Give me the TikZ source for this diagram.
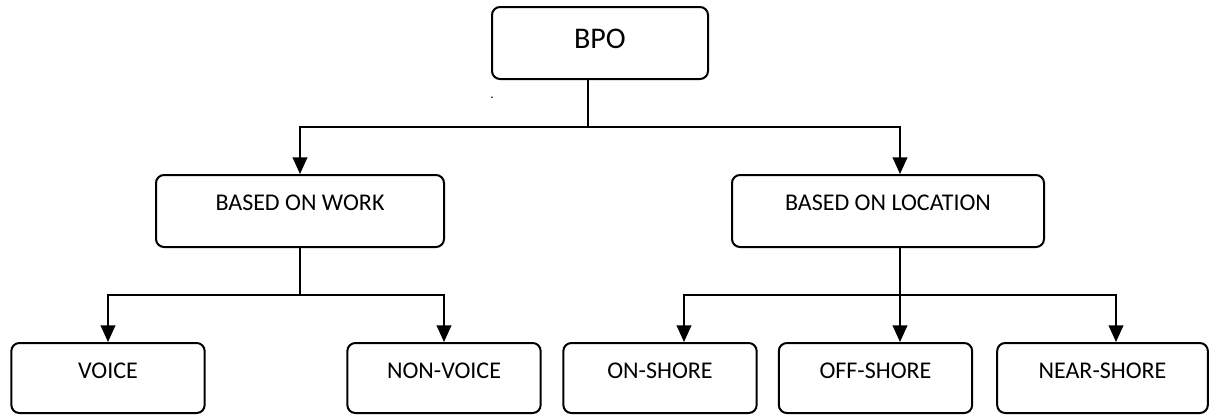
\documentclass[tikz,border=0pt]{standalone}
\usepackage{fontspec}
\setmainfont{Carlito}
\usetikzlibrary{arrows.meta,positioning}

\begin{document}
\begin{tikzpicture}[x=0.75pt,y=-0.75pt]
      \useasboundingbox (0,0) rectangle (1209,415);
      \tikzset{
        box/.style={draw,line width=1.5pt,rounded corners=6pt,inner sep=0pt,
          font=\fontsize{18}{21}\selectfont,text height=11.5pt,text depth=12.5pt},
        arrow/.style={line width=1.4pt,-{Triangle[width=11pt,length=12.5pt]}},
        link/.style={line width=1.4pt}}
      % top level
      \node[box,minimum width=162pt,minimum height=54pt,
        font=\fontsize{22.5}{26}\selectfont,text height=14.5pt,text depth=7pt] (bpo) at (600,43) {BPO};
      \node (dot) at (492,98) {.};
      % second level
      \node[box,minimum width=216pt,minimum height=54pt] (work) at (300,211) {BASED ON WORK};
      \node[box,minimum width=234pt,minimum height=54pt] (loc) at (888,211) {BASED ON LOCATION};
      % third level
      \begin{scope}[every node/.style={box,minimum width=145pt,minimum height=52.5pt,text depth=11.5pt}]
        \node (voice) at (108,378) {VOICE};
        \node (nonvoice) at (444,378) {NON-VOICE};
        \node (onshore) at (660,378) {ON-SHORE};
        \node (offshore) at (875.5,378) {OFF-SHORE};
        \node[minimum width=158pt] (nearshore) at (1102.5,378) {NEAR-SHORE};
      \end{scope}
      % forks
      \coordinate (topfork) at (588,127);
      \coordinate (workfork) at (300,295);
      \coordinate (locfork) at (900,295);
      \draw[link] (bpo.south -| topfork) -- (topfork);
      \draw[arrow] (topfork) -| (work.north);
      \draw[arrow] (topfork) -| (loc.north -| locfork);
      \draw[link] (work.south) -- (workfork);
      \draw[arrow] (workfork) -| (voice.north);
      \draw[arrow] (workfork) -| (nonvoice.north);
      \draw[link] (loc.south -| locfork) -- (locfork);
      \draw[arrow] (locfork) -| (onshore.north -| 684,0);
      \draw[arrow] (locfork) -- (offshore.north -| locfork);
      \draw[arrow] (locfork) -| (nearshore.north -| 1116,0);
\end{tikzpicture}
\end{document}
